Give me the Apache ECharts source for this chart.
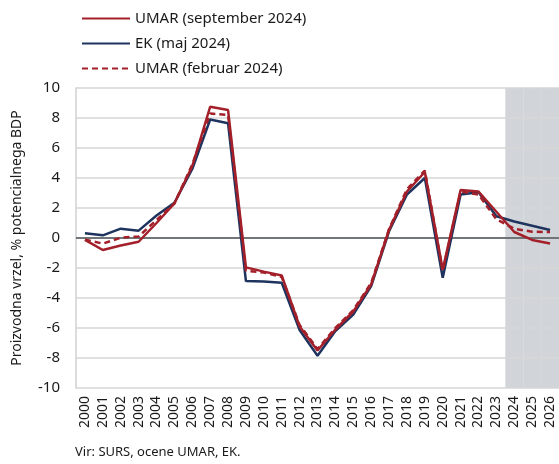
<!DOCTYPE html>
<html>
<head>
<meta charset="utf-8">
<script src="https://cdn.jsdelivr.net/npm/echarts@6/dist/echarts.min.js"></script>
<style>
  html, body { margin: 0; padding: 0; background: #ffffff; }
  #chart { width: 559px; height: 464px; }
</style>
</head>
<body>
<div id="chart"></div>
<script>
// Years on the category axis
const years = ['2000','2001','2002','2003','2004','2005','2006','2007','2008','2009',
  '2010','2011','2012','2013','2014','2015','2016','2017','2018','2019',
  '2020','2021','2022','2023','2024','2025','2026'];

// Output gap, % of potential GDP
const umarSep2024 = [-0.13, -0.8, -0.5, -0.25, 1.0, 2.3, 4.8, 8.75, 8.53, -1.96,
  -2.24, -2.5, -5.9, -7.5, -6.1, -4.9, -3.1, 0.55, 3.1, 4.4,
  -2.1, 3.2, 3.1, 1.75, 0.4, -0.13, -0.36];
const ekMaj2024 = [0.31, 0.18, 0.62, 0.49, 1.5, 2.35, 4.6, 7.9, 7.65, -2.87,
  -2.9, -2.98, -6.13, -7.85, -6.2, -5.1, -3.2, 0.45, 2.9, 4.0,
  -2.65, 2.9, 3.05, 1.45, 1.1, 0.82, 0.53];
const umarFeb2024 = [-0.1, -0.38, 0.02, 0.1, 1.2, 2.3, 4.9, 8.3, 8.2, -2.18,
  -2.3, -2.6, -5.8, -7.4, -6.0, -4.8, -3.0, 0.6, 3.25, 4.5,
  -2.2, 3.1, 2.9, 1.25, 0.62, 0.42, 0.4];

// Forecast years drawn on a grey background
const forecastYears = ['2024', '2025', '2026'];

const yTicks = { min: -10, max: 10, interval: 2 };

const FONT = 'Noto Sans';
const RED = '#a3202a';
const NAVY = '#1e335e';
const SHADE = '#d1d5d9';

// Shaded band built from the forecast years: full-height bars on the category axis
const shadeUp = years.map(y => forecastYears.includes(y) ? yTicks.max : null);
const shadeDown = years.map(y => forecastYears.includes(y) ? yTicks.min : null);

const chart = echarts.init(document.getElementById('chart'), null, { renderer: 'canvas' });

chart.setOption({
  animation: false,
  textStyle: { fontFamily: FONT },
  grid: { left: 76, right: 0, top: 88, bottom: 76 },
  legend: {
    orient: 'vertical',
    left: 76,
    top: 6,
    itemWidth: 48,
    itemHeight: 14,
    itemGap: 10,
    data: ['UMAR (september 2024)', 'EK (maj 2024)', 'UMAR (februar 2024)'],
    itemStyle: { opacity: 0, borderWidth: 0 },
    textStyle: { fontFamily: FONT, fontSize: 15, color: '#1a1a1a' }
  },
  xAxis: {
    type: 'category',
    data: years,
    boundaryGap: true,
    axisLine: { show: false },
    axisTick: { show: false },
    axisLabel: {
      rotate: 90,
      margin: 8,
      interval: 0,
      fontFamily: FONT,
      fontSize: 14,
      color: '#1a1a1a'
    },
    splitLine: { show: false }
  },
  yAxis: {
    type: 'value',
    min: yTicks.min,
    max: yTicks.max,
    interval: yTicks.interval,
    name: 'Proizvodna vrzel, % potencialnega BDP',
    nameLocation: 'middle',
    nameRotate: 90,
    nameGap: 52,
    nameTextStyle: { fontFamily: FONT, fontSize: 14, color: '#1a1a1a' },
    axisLine: { show: true, lineStyle: { color: '#d0d0d0', width: 1.5 } },
    axisTick: { show: false },
    axisLabel: { margin: 16, fontFamily: FONT, fontSize: 15, color: '#1a1a1a' },
    splitLine: { show: true, lineStyle: { color: '#d6d6d6', width: 1.5 } }
  },
  series: [
    {
      name: 'shade-up',
      type: 'bar',
      data: shadeUp,
      stack: 'shade',
      barWidth: '100%',
      barCategoryGap: 0,
      itemStyle: { color: SHADE },
      silent: true,
      z: -1,
      legendHoverLink: false
    },
    {
      name: 'shade-down',
      type: 'bar',
      data: shadeDown,
      stack: 'shade',
      barWidth: '100%',
      barCategoryGap: 0,
      itemStyle: { color: SHADE },
      silent: true,
      z: -1,
      legendHoverLink: false
    },
    {
      name: 'EK (maj 2024)',
      type: 'line',
      data: ekMaj2024,
      symbol: 'none',
      lineStyle: { color: NAVY, width: 2.5 },
      itemStyle: { color: NAVY },
      z: 3,
      markLine: {
        silent: true,
        symbol: 'none',
        label: { show: false },
        lineStyle: { color: '#4d5359', width: 1.5, type: 'solid' },
        data: [{ yAxis: 0 }],
        z: 2
      }
    },
    {
      name: 'UMAR (september 2024)',
      type: 'line',
      data: umarSep2024,
      symbol: 'none',
      lineStyle: { color: RED, width: 2.5 },
      itemStyle: { color: RED },
      z: 4
    },
    {
      name: 'UMAR (februar 2024)',
      type: 'line',
      data: umarFeb2024,
      symbol: 'none',
      lineStyle: { color: RED, width: 2.5, type: [6, 4] },
      itemStyle: { color: RED },
      z: 5
    }
  ],
  graphic: [
    {
      type: 'text',
      left: 75,
      top: 446,
      style: { text: 'Vir: SURS, ocene UMAR, EK.', font: '13px "Noto Sans"', fill: '#1a1a1a' }
    }
  ]
});
</script>
</body>
</html>
